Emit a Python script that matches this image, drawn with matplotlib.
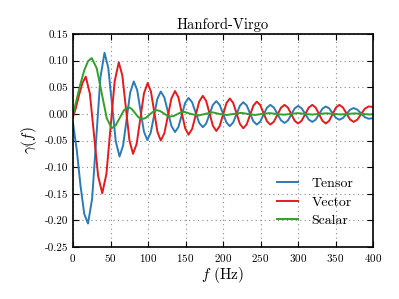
import matplotlib
matplotlib.use('Agg')
import matplotlib.pyplot as plt

plt.rcParams['font.family'] = 'serif'
plt.rcParams['font.serif'] = ['cmr10']
plt.rcParams['mathtext.fontset'] = 'cm'
plt.rcParams['axes.formatter.use_mathtext'] = True

# values (frequency in Hz, overlap reduction)
f_tensor = [0, 5, 10, 15, 20, 25.5, 31, 36.5, 42, 47, 52, 57, 62,
            66.75, 71.5, 76.25, 81, 85.5, 90, 94.5, 99, 103.5, 108, 112.5, 117,
            121.75, 126.5, 131.25, 136, 140.5, 145, 149.5, 154, 158.75, 163.5, 168.25, 173,
            177.5, 182, 186.5, 191, 195.5, 200, 204.5, 209, 213.5, 218, 222.5, 227,
            231.5, 236, 240.5, 245, 249.5, 254, 258.5, 263, 267.75, 272.5, 277.25, 282,
            286.5, 291, 295.5, 300, 304.75, 309.5, 314.25, 319, 323.5, 328, 332.5, 337,
            341.5, 346, 350.5, 355, 359.75, 364.5, 369.25, 374, 379, 384, 389, 394, 400]
tensor = [-0.017, -0.068, -0.135, -0.188, -0.206, -0.159, -0.0455, 0.068, 0.115,
          0.0865, 0.0175, -0.0515, -0.080, -0.0594, -0.0095, 0.0404, 0.061,
          0.045, 0.006, -0.033, -0.049, -0.0357, -0.0035, 0.0287, 0.042,
          0.0309, 0.004, -0.0229, -0.034, -0.0247, -0.002, 0.0207, 0.030,
          0.022, 0.0025, -0.017, -0.025, -0.018, -0.0005, 0.017, 0.024,
          0.017, 0.0005, -0.016, -0.023, -0.016, -0.0005, 0.0155, 0.022,
          0.016, 0.001, -0.014, -0.020, -0.0146, -0.0015, 0.0116, 0.017,
          0.012, 0.0, -0.012, -0.017, -0.0123, -0.001, 0.0103, 0.015,
          0.0106, 0.0, -0.0106, -0.015, -0.0108, -0.0005, 0.0098, 0.014,
          0.0104, 0.0015, -0.0074, -0.011, -0.0078, 0.0, 0.0078, 0.011,
          0.0081, 0.001, -0.0061, -0.009, -0.008]

f_vector = [0, 4, 8, 12.5, 17, 22.5, 28, 33.5, 39, 44.5, 50, 55.5, 61,
            65.75, 70.5, 75.25, 80, 84.9, 89.75, 94.6, 99.5, 103.9, 108.25, 112.6, 117,
            121.75, 126.5, 131.25, 136, 140.5, 145, 149.5, 154, 158.75, 163.5, 168.25, 173,
            177.5, 182, 186.5, 191, 195.5, 200, 204.5, 209, 213.5, 218, 222.5, 227,
            231.5, 236, 240.5, 245, 249.5, 254, 258.5, 263, 267.75, 272.5, 277.25, 282,
            286.5, 291, 295.5, 300, 304.75, 309.5, 314.25, 319, 323.5, 328, 332.5, 337,
            341.5, 346, 350.5, 355, 359.75, 364.5, 369.25, 374, 379, 384, 389, 394, 400]
vector = [-0.006, 0.012, 0.035, 0.058, 0.070, 0.038, -0.0395, -0.117, -0.149,
          -0.113, -0.026, 0.061, 0.097, 0.072, 0.011, -0.050, -0.075,
          -0.056, -0.0085, 0.0386, 0.058, 0.042, 0.004, -0.034, -0.050,
          -0.0364, -0.0035, 0.0294, 0.043, 0.031, 0.002, -0.027, -0.039,
          -0.0283, -0.0025, 0.0233, 0.034, 0.0244, 0.001, -0.0224, -0.032,
          -0.0231, -0.0015, 0.0201, 0.029, 0.0208, 0.001, -0.0188, -0.027,
          -0.0197, -0.002, 0.0157, 0.023, 0.0167, 0.0015, -0.0137, -0.020,
          -0.0146, -0.0015, 0.0116, 0.017, 0.0119, -0.0005, -0.0129, -0.018,
          -0.0129, -0.0005, 0.0119, 0.017, 0.0119, -0.0005, -0.0129, -0.018,
          -0.0129, -0.0005, 0.0119, 0.017, 0.0123, 0.001, -0.0103, -0.015,
          -0.0108, -0.0005, 0.0098, 0.014, 0.013]

f_scalar = [0, 5, 10, 15, 20, 25, 31.6, 38.25, 44.9, 51.5, 57, 62.5, 68, 73.5,
            78.1, 82.75, 87.4, 92, 97, 102, 107, 112, 116.5, 121, 125.5, 130,
            134.5, 139, 143.5, 148, 157, 167, 176, 186, 195, 205, 214, 224,
            233, 243, 252, 262, 271, 281, 290, 300, 309, 319, 328, 338, 347,
            357, 366, 376, 385, 395, 400]
scalar = [-0.001, 0.028, 0.057, 0.082, 0.099, 0.105, 0.0857, 0.039, -0.0077, -0.027,
          -0.0212, -0.007, 0.0072, 0.013, 0.0096, 0.0015, -0.0066, -0.010,
          -0.0075, -0.0015, 0.0045, 0.007, 0.0052, 0.001, -0.0032, -0.005,
          -0.0037, -0.0005, 0.0027, 0.004, 0.0, -0.003, 0.0, 0.003, 0.0, -0.002,
          0.0, 0.002, 0.0, -0.002, 0.0, 0.0015, 0.0, -0.0015, 0.0, 0.0015, 0.0,
          -0.0012, 0.0, 0.0012, 0.0, -0.001, 0.0, 0.001, 0.0, -0.001, -0.0008]

xticks = [0, 50, 100, 150, 200, 250, 300, 350, 400]
yticks = [-0.25, -0.20, -0.15, -0.10, -0.05, 0.00, 0.05, 0.10, 0.15]

fig = plt.figure(figsize=(3.99, 2.99), dpi=100)
ax = fig.add_axes([0.183, 0.174, 0.752, 0.712])

ax.plot(f_tensor, tensor, color='#2c7bb6', lw=1.4, label='Tensor')
ax.plot(f_vector, vector, color='#e41a1c', lw=1.4, label='Vector')
ax.plot(f_scalar, scalar, color='#33a02c', lw=1.4, label='Scalar')

ax.set_xlim(0, 400)
ax.set_ylim(-0.25, 0.15)
ax.set_xticks(xticks)
ax.set_yticks(yticks)
ax.set_yticklabels(['%.2f' % v for v in yticks])
ax.tick_params(direction='in', top=True, right=True, labelsize=8, length=4, width=0.8)
ax.grid(True, linestyle=(0, (1, 3)), color='#888888', lw=0.8)
for s in ax.spines.values():
    s.set_linewidth(1.2)

ax.set_title('Hanford-Virgo', fontsize=10.5, pad=4)
ax.set_xlabel('$f$ (Hz)', fontsize=11, labelpad=1)
ax.set_ylabel(r'$\gamma(f)$', fontsize=11)
ax.legend(loc='center left', bbox_to_anchor=(0.66, 0.21), borderaxespad=0,
          frameon=False, fontsize=10, handlelength=1.55, handletextpad=0.95,
          labelspacing=0.4)

fig.savefig('out.png', dpi=100)
